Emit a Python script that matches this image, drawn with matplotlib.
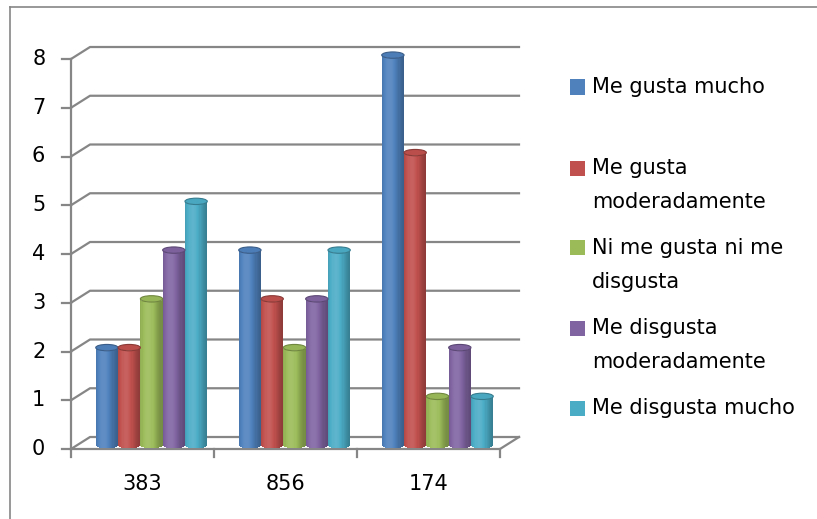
import numpy as np
import matplotlib.pyplot as plt
from matplotlib.patches import Ellipse, Rectangle
from matplotlib.lines import Line2D
from matplotlib.colors import to_rgb

# data
categories = ['383', '856', '174']
series_names = ['Me gusta mucho', 'Me gusta moderadamente', 'Ni me gusta ni me disgusta',
                'Me disgusta moderadamente', 'Me disgusta mucho']
legend_lines = [['Me gusta mucho'], ['Me gusta', 'moderadamente'], ['Ni me gusta ni me', 'disgusta'],
                ['Me disgusta', 'moderadamente'], ['Me disgusta mucho']]
me_gusta_mucho = [2, 4, 8]
me_gusta_moderadamente = [2, 3, 6]
ni_gusta_ni_disgusta = [3, 2, 1]
me_disgusta_moderadamente = [4, 3, 2]
me_disgusta_mucho = [5, 4, 1]
values = [me_gusta_mucho, me_gusta_moderadamente, ni_gusta_ni_disgusta,
          me_disgusta_moderadamente, me_disgusta_mucho]
colors = ['#4F81BD', '#C0504D', '#9BBB59', '#8064A2', '#4BACC6']
yticks = list(range(0, 9))

W, H = 817, 519
GRID = '#868686'
FS = 15

def fx(px):
    return px / W

def fy(py):
    return 1 - py / H

def shade(c, f):
    rgb = np.array(to_rgb(c))
    if f >= 1:
        return tuple(rgb + (1 - rgb) * (f - 1))
    return tuple(rgb * f)

fig = plt.figure(figsize=(W / 100, H / 100), dpi=100)
plt.rcParams['font.family'] = ['DejaVu Sans']

# 3d-ish geometry (in data units)
DX, DY = 0.133, 0.246        # back wall offset
BX, BY = 0.063, 0.08         # bar depth offset
BW = 0.156                   # bar width
EH = 0.065                   # half height of the bar ellipses
YMAX = 8.3

ax = fig.add_axes([fx(71), fy(449), fx(519) - fx(71), fy(449 - YMAX * 48.75) - fy(449)])
ax.set_xlim(-0.5, 2.5 + DX)
ax.set_ylim(0, YMAX)
ax.axis('off')

x0, x1 = -0.5, len(categories) - 0.5
lw = 1.6
# back wall gridlines + left side
for v in yticks:
    ax.plot([x0, x0 + DX, x1 + DX], [v, v + DY, v + DY], color=GRID, lw=lw, clip_on=False, zorder=1)
    ax.plot([x0 - 0.063, x0], [v, v], color=GRID, lw=lw, clip_on=False, zorder=1)
    ax.text(x0 - 0.18, v, str(v), ha='right', va='center', fontsize=FS, color='black')
# front axes
ax.plot([x0, x0], [0, yticks[-1]], color=GRID, lw=lw, clip_on=False, zorder=1)
ax.plot([x0, x1, x1 + DX], [0, 0, DY], color=GRID, lw=lw, clip_on=False, zorder=1)
for i in range(len(categories) + 1):
    ax.plot([x0 + i, x0 + i], [0, -0.164], color=GRID, lw=lw, clip_on=False, zorder=1)
for i, c in enumerate(categories):
    ax.text(i, -0.72, c, ha='center', va='center', fontsize=FS, color='black')

# cylinders
N = 20
t = (np.arange(N) + 0.5) / N
prof = 0.68 + 0.42 * np.exp(-((t - 0.35) / 0.45) ** 2)
ell = EH * np.sqrt(1 - (2 * t - 1) ** 2)
for j, (vals, col) in enumerate(zip(values, colors)):
    for i, v in enumerate(vals):
        xc = i + BX + (j - 2) * BW
        xs = xc - BW / 2 + t * BW
        ax.bar(xs, [v] * N, width=BW / N * 1.05, bottom=BY - ell,
               color=[shade(col, f) for f in prof], linewidth=0, zorder=3)
        ax.add_patch(Ellipse((xc, v + BY), BW, 2 * EH, facecolor=shade(col, 0.97),
                             edgecolor=shade(col, 0.72), lw=0.8, zorder=4))

# legend
entry_y = [87, 168, 248, 328, 408]
for lines, col, y in zip(legend_lines, colors, entry_y):
    fig.add_artist(Rectangle((fx(570), fy(y + 7.5)), 15 / W, 15 / H, transform=fig.transFigure,
                             facecolor=col, edgecolor='none'))
    for k, line in enumerate(lines):
        fig.text(fx(592), fy(y + 34 * k), line, ha='left', va='center', fontsize=FS, color='black')

# chart border (top and left visible)
fig.add_artist(Line2D([fx(9.5), 1], [fy(7), fy(7)], transform=fig.transFigure, color=GRID, lw=1.2))
fig.add_artist(Line2D([fx(9.5), fx(9.5)], [fy(7), 0], transform=fig.transFigure, color=GRID, lw=1.2))

fig.savefig('out.png', dpi=100)
